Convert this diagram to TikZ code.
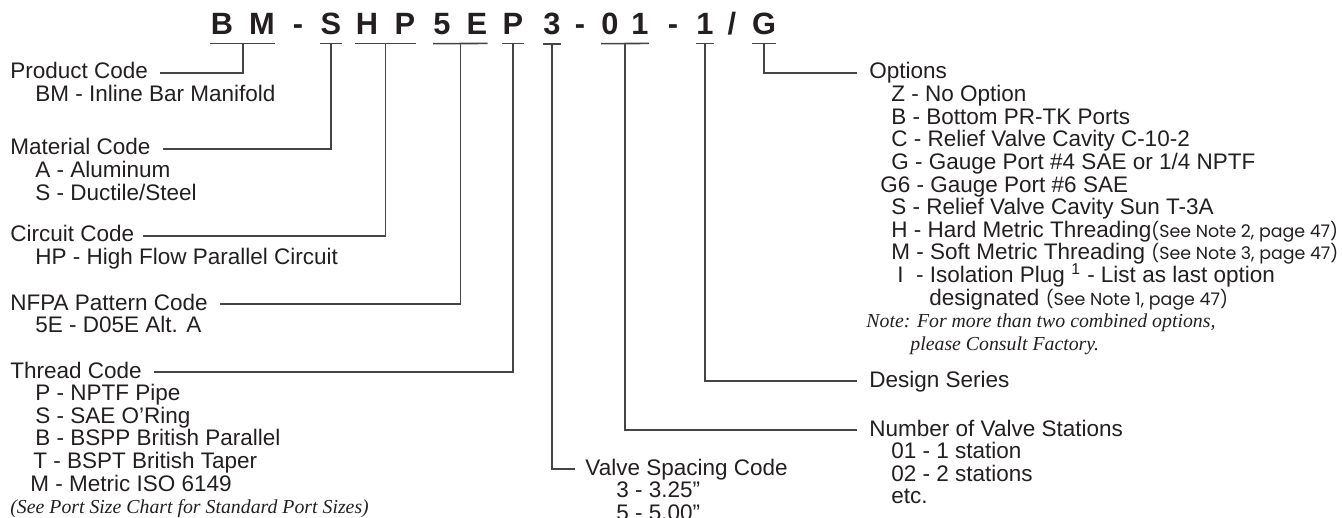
\documentclass[tikz,border=0pt]{standalone}
\usepackage{fontspec}
\setmainfont{Liberation Sans}
\newfontfamily\notefamily{Poppins}
\newfontfamily\remarkfamily{Liberation Serif}
\usepackage{tikz}
\usetikzlibrary{positioning,calc}

\newcommand{\codefont}{\fontsize{15.4}{16}\selectfont\bfseries}
\newcommand{\bodyfont}{\fontsize{11.25}{11.3}\selectfont}
\newcommand{\seenote}[1]{{\notefamily\fontsize{8.7}{9}\selectfont(#1)}}
\newcommand{\remarkfont}{\remarkfamily\itshape\fontsize{9.9}{10}\selectfont}

\definecolor{ink}{HTML}{231F20}
\definecolor{leadgray}{HTML}{454545}

\tikzset{
  code/.style={anchor=base, inner sep=0pt, font=\codefont, text=ink},
  heading/.style={anchor=base west, inner sep=0pt, text height=6pt, text depth=0pt, font=\bodyfont, text=ink},
  entry/.style={anchor=base west, inner sep=0pt, font=\bodyfont, text=ink},
  remark/.style={anchor=base west, inner sep=0pt, font=\remarkfont, text=ink},
  lead/.style={draw=leadgray, line width=0.8pt}
}

\begin{document}
\begin{tikzpicture}[x=0.5pt,y=-0.5pt]
\useasboundingbox (0,0) rectangle (1342,518);

% part number
\node[code] (hB)  at (222,35) {B};
\node[code] (hM)  at (262,35) {M};
\node[code] (hDa) at (298,35) {-};
\node[code] (hS)  at (331,35) {S};
\node[code] (hH)  at (367,35) {H};
\node[code] (hP)  at (405,35) {P};
\node[code] (h5)  at (442,35) {5};
\node[code] (hE)  at (477,35) {E};
\node[code] (hPb) at (513,35) {P};
\node[code] (h3)  at (552,35) {3};
\node[code] (hDb) at (580,35) {-};
\node[code] (h0)  at (610,35) {0};
\node[code] (h1)  at (640,35) {1};
\node[code] (hDc) at (673,35) {-};
\node[code] (h1b) at (705,35) {1};
\node[code] (hSl) at (732,35) {/};
\node[code] (hG)  at (764,35) {G};

% underlines
\draw[lead] ([yshift=-4pt]hB.south west) -- coordinate (uBM) ([yshift=-4pt]hM.south east);
\draw[lead] ([yshift=-4pt]hS.south west) -- coordinate (uS) ([yshift=-4pt]hS.south east);
\draw[lead] ([yshift=-4pt]hH.south west) -- coordinate (uHP) ([yshift=-4pt]hP.south east);
\draw[lead] ([yshift=-4pt]h5.south west) -- coordinate (u5E) ([yshift=-4pt]hE.south east);
\draw[lead] ([yshift=-4pt]hPb.south west) -- coordinate (uP) ([yshift=-4pt]hPb.south east);
\draw[lead] ([yshift=-4pt]h3.south west) -- coordinate (u3) ([yshift=-4pt]h3.south east);
\draw[lead] ([yshift=-4pt]h0.south west) -- coordinate (u01) ([yshift=-4pt]h1.south east);
\draw[lead] ([yshift=-4pt]h1b.south west) -- coordinate (u1) ([yshift=-4pt]h1b.south east);
\draw[lead] ([yshift=-4pt]hG.south west) -- coordinate (uG) ([yshift=-4pt]hG.south east);

% left column
\node[heading] (tProd) at (10,79) {Product Code};
\node[entry] (eBM) at (35,101.6) {BM - Inline Bar Manifold};

\node[heading] (tMat) at (10,155) {Material Code};
\node[entry] (eAl) at (35,177.6) {A - Aluminum};
\node[entry] (eSt) at (35,200.2) {S - Ductile/Steel};

\node[heading] (tCirc) at (10,242) {Circuit Code};
\node[entry] (eHP) at (35,264.6) {HP - High Flow Parallel Circuit};

\node[heading] (tNfpa) at (10,310) {NFPA Pattern Code};
\node[entry] (e5E) at (35,332.6) {5E - D05E Alt. A};

\node[heading] (tThr) at (10,378) {Thread Code};
\node[entry] (eNP) at (35,400.6) {P - NPTF Pipe};
\node[entry] (eSA) at (35,423.2) {S - SAE O’Ring};
\node[entry] (eBS) at (35,445.8) {B - BSPP British Parallel};
\node[entry] (eBT) at (33,468.4) {T - BSPT British Taper};
\node[entry] (eMI) at (30,491) {M - Metric ISO 6149};
\node[remark] (rPort) at (10,513.6) {(See Port Size Chart for Standard Port Sizes)};

% valve spacing
\node[heading] (tVal) at (585,475) {Valve Spacing Code};
\node[entry] (vS3) at (616,497.6) {3 - 3.25”};
\node[entry] (vS5) at (616,520.2) {5 - 5.00”};

% right column
\node[heading] (tOpt) at (869,79) {Options};
\node[entry] (oZ) at (891,101.6) {Z - No Option};
\node[entry] (oB) at (891,124.2) {B - Bottom PR-TK Ports};
\node[entry] (oC) at (891,146.8) {C - Relief Valve Cavity C-10-2};
\node[entry] (oG) at (891,169.4) {G - Gauge Port \#4 SAE or 1/4 NPTF};
\node[entry] (oG6) at (880,192) {G6 - Gauge Port \#6 SAE};
\node[entry] (oS) at (891,214.6) {S - Relief Valve Cavity Sun T-3A};
\node[entry] (oH) at (891,237.2) {H - Hard Metric Threading\seenote{See Note 2, page 47}};
\node[entry] (oM) at (891,259.8) {M - Soft Metric Threading \seenote{See Note 3, page 47}};
\node[entry] (oI) at (897,282.4) {I\ \ - Isolation Plug \textsuperscript{1} - List as last option};
\node[entry] (oDes) at (929,305) {designated \seenote{See Note 1, page 47}};
\node[remark] (rNote) at (866,327.6) {Note: For more than two combined options,};
\node[remark] (rPlease) at (910,350.2) {please Consult Factory.};

\node[heading] (tDes) at (869,387) {Design Series};

\node[heading] (tNum) at (869,436) {Number of Valve Stations};
\node[entry] (nV1) at (891,458.6) {01 - 1 station};
\node[entry] (nV2) at (891,481.2) {02 - 2 stations};
\node[entry] (nEtc) at (891,503.8) {etc.};

% leaders
\draw[lead] (uBM) |- ([xshift=6pt]tProd.east);
\draw[lead] (uS) |- ([xshift=6pt]tMat.east);
\draw[lead] (uHP) |- ([xshift=4pt]tCirc.east);
\draw[lead] (u5E) |- ([xshift=6pt]tNfpa.east);
\draw[lead] (uP) |- ([xshift=6pt]tThr.east);
\draw[lead] (u3) |- ([xshift=-5pt]tVal.west);
\draw[lead] (u01) |- ([xshift=-6pt]tNum.west);
\draw[lead] (u1) |- ([xshift=-6pt]tDes.west);
\draw[lead] (uG) |- ([xshift=-6pt]tOpt.west);
\end{tikzpicture}
\end{document}
